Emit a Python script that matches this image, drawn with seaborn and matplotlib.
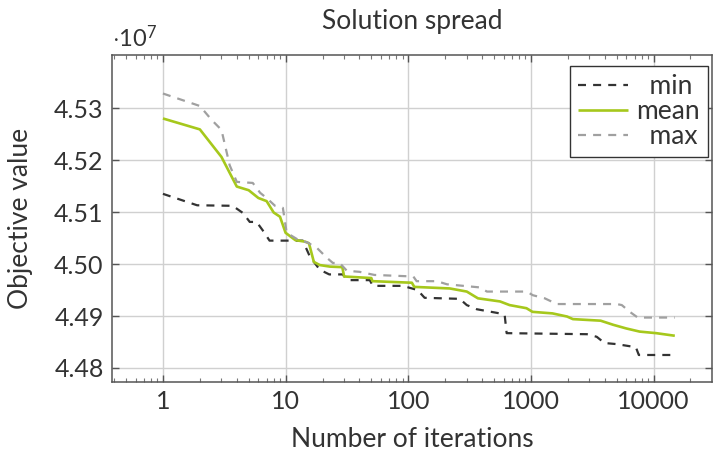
import numpy as np
import pandas as pd
import matplotlib
matplotlib.use("Agg")
import matplotlib.pyplot as plt
import seaborn as sns
from matplotlib.ticker import LogLocator, FixedLocator, NullFormatter, FixedFormatter

# ---- data (objective values in units of 1e7) ----
min_x = [1, 1.9, 3.7, 4.5, 5.1, 5.8, 6.5, 7.4, 13.8, 15.8, 19, 22.7, 29.2, 32, 48.6, 51.4, 90, 119,
         136, 263, 300, 362, 558, 611, 634, 2860, 3440, 3980, 4960, 7170, 7580, 14900]
min_y = [4.5135, 4.5113, 4.5112, 4.5098, 4.5081, 4.5081, 4.5065, 4.5045, 4.5045, 4.5014, 4.4989,
         4.4980, 4.4980, 4.4969, 4.4969, 4.4958, 4.4958, 4.4950, 4.4935, 4.4933, 4.4921, 4.4913,
         4.4905, 4.4902, 4.4867, 4.4865, 4.4860, 4.4848, 4.4846, 4.4840, 4.4825, 4.4825]

mean_x = [1, 2, 3, 4, 5, 6, 7, 8, 9, 10, 12, 14.4, 15.5, 17, 19, 23, 29, 30, 50, 51, 107, 112, 218,
          300, 370, 560, 670, 920, 1030, 1500, 1970, 2200, 3700, 4700, 6000, 7700, 10500, 14900]
mean_y = [4.5280, 4.5259, 4.5206, 4.5149, 4.5142, 4.5127, 4.5121, 4.5099, 4.5091, 4.5060, 4.5046,
          4.5043, 4.5040, 4.5004, 4.4998, 4.4995, 4.4994, 4.4976, 4.4973, 4.4967, 4.4964, 4.4956,
          4.4953, 4.4947, 4.4934, 4.4928, 4.4921, 4.4915, 4.4908, 4.4905, 4.4899, 4.4894, 4.4891,
          4.4883, 4.4876, 4.4870, 4.4867, 4.4862]

max_x = [1, 2, 2.5, 3, 3.5, 4, 5.4, 6.2, 7, 8.2, 9.5, 10.2, 13, 14.9, 18, 21.7, 24.3, 27.6, 31.6,
         40, 53, 110, 117, 171, 207, 383, 438, 926, 1036, 1297, 1626, 5010, 5510, 6400, 7430, 14900]
max_y = [4.5328, 4.5304, 4.5277, 4.5258, 4.5190, 4.5158, 4.5156, 4.5137, 4.5127, 4.5112, 4.5108,
         4.5060, 4.5045, 4.5042, 4.5031, 4.5012, 4.5002, 4.5002, 4.4987, 4.4985, 4.4979, 4.4976,
         4.4967, 4.4967, 4.4961, 4.4955, 4.4947, 4.4947, 4.4940, 4.4934, 4.4923, 4.4923, 4.4921,
         4.4908, 4.4897, 4.4897]

x_ticks = [1, 10, 100, 1000, 10000]
x_tick_labels = ["1", "10", "100", "1000", "10000"]
y_ticks = [4.48, 4.49, 4.50, 4.51, 4.52, 4.53]
y_tick_labels = ["4.48", "4.49", "4.50", "4.51", "4.52", "4.53"]

series_names = ["min", "mean", "max"]
legend_labels = ["  min", "mean", "  max"]

# ---- style ----
sns.set_theme(style="white")
plt.rcParams["font.family"] = ["Lato", "DejaVu Sans"]
plt.rcParams["mathtext.fontset"] = "custom"
plt.rcParams["mathtext.rm"] = "Lato"
plt.rcParams["mathtext.it"] = "Lato:italic"
TXT = "#333333"

fig = plt.figure(figsize=(7.27, 4.55), dpi=100)
ax = fig.add_axes([0.154, 0.1604, 0.825, 0.7186])

styles = {
    "min": dict(color="#333333", lw=1.6, dashes=(3.6, 3.2)),
    "mean": dict(color="#a6c81c", lw=1.9, dashes=None),
    "max": dict(color="#a0a0a0", lw=1.6, dashes=(3.6, 3.2)),
}
data = {"min": (min_x, min_y), "mean": (mean_x, mean_y), "max": (max_x, max_y)}

for name in series_names:
    xs, ys = data[name]
    df = pd.DataFrame({"x": xs, "y": ys})
    st = styles[name]
    sns.lineplot(data=df, x="x", y="y", ax=ax, estimator=None, sort=False,
                 color=st["color"], linewidth=st["lw"], label=name)
    line = ax.get_lines()[-1]
    if st["dashes"] is not None:
        line.set_dashes(st["dashes"])
    line.set_solid_capstyle("butt")

ax.set_xscale("log")
ax.set_xlim(0.384, 29800)
ax.set_ylim(4.4773, 4.5402)

ax.xaxis.set_major_locator(FixedLocator(x_ticks))
ax.xaxis.set_major_formatter(FixedFormatter(x_tick_labels))
ax.xaxis.set_minor_locator(LogLocator(base=10, subs=np.arange(2, 10), numticks=20))
ax.xaxis.set_minor_formatter(NullFormatter())
ax.yaxis.set_major_locator(FixedLocator(y_ticks))
ax.yaxis.set_major_formatter(FixedFormatter(y_tick_labels))

ax.grid(True, which="major", color="#d0d0d0", linewidth=1.0)
ax.set_axisbelow(True)
ax.tick_params(which="major", direction="in", length=5, width=1, color="#555555",
               top=True, right=True, bottom=True, left=True,
               labelsize=18, labelcolor=TXT)
ax.tick_params(axis="x", which="major", pad=6)
ax.tick_params(axis="y", which="major", pad=6)
ax.tick_params(axis="x", which="minor", direction="in", length=3, width=0.8,
               color="#777777", top=True, bottom=True)
for sp in ax.spines.values():
    sp.set_color("#555555")
    sp.set_linewidth(1.1)

ax.set_xlabel("Number of iterations", fontsize=19, color=TXT, labelpad=10)
ax.set_ylabel("Objective value", fontsize=19, color=TXT, labelpad=15)
ax.set_title("Solution spread", fontsize=19, color=TXT, pad=19)
ax.text(0.0, 1.024, r"$\cdot\mathregular{10^7}$", transform=ax.transAxes,
        fontsize=17, color=TXT, ha="left", va="baseline")

handles, labels = ax.get_legend_handles_labels()
leg = ax.legend(handles, legend_labels, loc="upper right",
                bbox_to_anchor=(0.9933, 0.9664), frameon=True, fancybox=False,
                edgecolor="#333333", framealpha=1, fontsize=19, handlelength=1.9,
                handletextpad=0.3, borderpad=0.3, labelspacing=0.0, borderaxespad=0.0)
leg.get_frame().set_linewidth(1.0)
for t in leg.get_texts():
    t.set_color(TXT)

fig.savefig("out.png", dpi=100)
